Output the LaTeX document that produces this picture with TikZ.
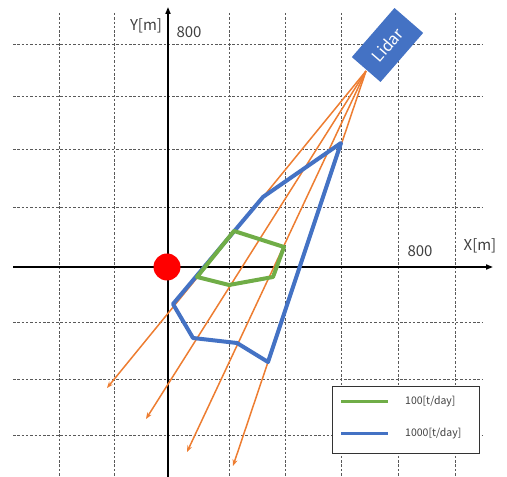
\documentclass[tikz,border=0pt]{standalone}
\usepackage{fontspec}
\setmainfont{Noto Sans CJK JP}
\usetikzlibrary{arrows.meta}
\definecolor{oblue}{HTML}{4472C4}
\definecolor{ogreen}{HTML}{70AD47}
\definecolor{oorange}{HTML}{ED7D31}
\definecolor{txtgray}{HTML}{404040}
\tikzset{
  gridline/.style={draw=black!65, line width=0.8pt, dash pattern=on 2.5pt off 1.8pt},
  axisline/.style={draw=black, line width=1.6pt, -{Triangle[length=7pt,width=5pt]}},
  ray/.style={draw=oorange, line width=1.5pt, -{Stealth[length=6.5pt,width=5pt]}},
  bluepoly/.style={draw=oblue, line width=4pt, line join=round},
  greenpoly/.style={draw=ogreen, line width=4pt, line join=round},
  lbl/.style={text=txtgray, font=\fontsize{15}{16}\selectfont, inner sep=0pt},
  legtext/.style={text=txtgray, font=\fontsize{10.5}{12}\selectfont, inner sep=0pt, anchor=west},
}
\begin{document}
\begin{tikzpicture}[x=1pt,y=1pt]
\useasboundingbox (0,0) rectangle (507,477);
% grid
\foreach \gy in {433,381,328,270,155,98,42} {\draw[gridline] (13,\gy) -- (483,\gy);}
\foreach \gx in {59,114,229,285,341,398,455} {\draw[gridline] (\gx,464) -- (\gx,0);}
% axes
\coordinate (xs) at (13,210);
\coordinate (xe) at (493,210);
\coordinate (ys) at (168,0);
\coordinate (ye) at (168,470);
\draw[axisline] (xs) -- (xe);
\draw[axisline] (ys) -- (ye);
\node[lbl] (ylab) at (146,451) {Y[m]};
\node[lbl] (y800) at (189,445) {800};
\node[lbl] (xlab) at (480,231) {X[m]};
\node[lbl] (x800) at (420,226) {800};
% rays
\coordinate (src) at (366,406);
\coordinate (r1) at (107,89);
\coordinate (r2) at (146,58);
\coordinate (r3) at (187,25);
\coordinate (r4) at (233,11);
\foreach \r in {r1,r2,r3,r4} {\draw[ray] (src) -- (\r);}
% red circle
\node[circle, fill=red, minimum size=27pt, inner sep=0pt] (origin) at (167,210) {};
% blue polygon
\coordinate (b1) at (341,334);
\coordinate (b2) at (263,280);
\coordinate (b3) at (173,173);
\coordinate (b4) at (193,139);
\coordinate (b5) at (237,134);
\coordinate (b6) at (268,115);
\draw[bluepoly] (b1) -- (b2) -- (b3) -- (b4) -- (b5) -- (b6) -- cycle;
% green polygon
\coordinate (g1) at (234,246);
\coordinate (g2) at (284,230);
\coordinate (g3) at (273,200);
\coordinate (g4) at (229,192);
\coordinate (g5) at (197,200);
\draw[greenpoly] (g1) -- (g2) -- (g3) -- (g4) -- (g5) -- cycle;
% lidar
\node[rectangle, fill=oblue, minimum width=65pt, minimum height=38pt, rotate=49, text=white, font=\fontsize{16}{18}\selectfont, inner sep=0pt] (lidar) at (387.5,432) {Lidar};
% legend
\node[draw=black!80, line width=0.9pt, fill=white, minimum width=147pt, minimum height=67pt, inner sep=0pt] (legend) at (405.5,57.5) {};
\coordinate (lg1) at (341,75);
\coordinate (lg2) at (388,75);
\coordinate (lb1) at (341,43);
\coordinate (lb2) at (388,43);
\draw[draw=ogreen, line width=3pt] (lg1) -- (lg2);
\draw[draw=oblue, line width=3pt] (lb1) -- (lb2);
\node[legtext] (t100) at (405,75) {100[t/day]};
\node[legtext] (t1000) at (405,43) {1000[t/day]};
\end{tikzpicture}
\end{document}
